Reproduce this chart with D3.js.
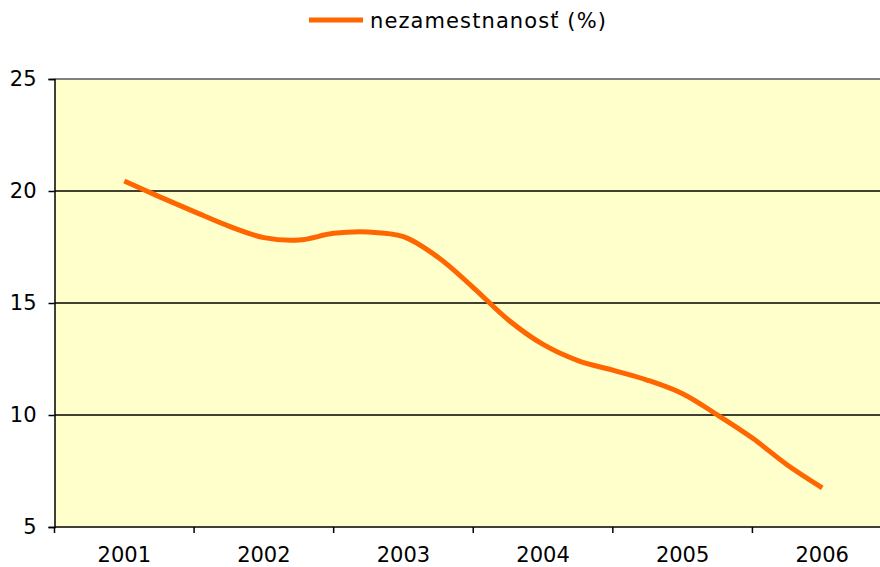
<!DOCTYPE html>
<html><head><meta charset="utf-8">
<script src="https://cdn.jsdelivr.net/npm/d3@7"></script>
<style>body{margin:0;background:#fff}svg{display:block}</style>
</head><body>
<script>
// Category labels (years)
const years = ["2001","2002","2003","2004","2005","2006"];
// Quarterly sample positions (years since 2001) and unemployment values (%)
const periods = [0,0.25,0.5,0.75,1,1.25,1.5,1.75,2,2.25,2.5,2.75,3,3.25,3.5,3.75,4,4.25,4.5,4.75,5];
const unemployment = [20.45,19.75,19.08,18.43,17.92,17.81,18.11,18.17,17.96,17.03,15.69,14.25,13.15,12.43,12.0,11.55,10.95,10.0,8.97,7.77,6.75];
const yTicks = [5,10,15,20,25];
const seriesName = "nezamestnanosť (%)";

(function(){
const W = 880, H = 567;
const pLeft = 54.5, pTop = 79, pBottom = 527, pRight = 892;
const font = "'DejaVu Sans', Verdana, sans-serif";

const svg = d3.select("body").append("svg").attr("width", W).attr("height", H);

const x = d3.scaleLinear().domain([-0.5, years.length - 0.5]).range([pLeft, pRight]);
const y = d3.scaleLinear().domain([5, 25]).range([pBottom, pTop]);

// plot background
svg.append("rect").attr("x", pLeft).attr("y", pTop).attr("width", pRight - pLeft).attr("height", pBottom - pTop).attr("fill", "#FFFFCC");

// gridlines
svg.append("g").selectAll("line").data(yTicks.filter(d => d > 5 && d < 25)).join("line")
  .attr("x1", pLeft).attr("x2", pRight).attr("y1", d => y(d)).attr("y2", d => y(d))
  .attr("stroke", "#000").attr("stroke-width", 1.6);
// top border
svg.append("line").attr("x1", pLeft).attr("x2", pRight).attr("y1", pTop).attr("y2", pTop)
  .attr("stroke", "#808080").attr("stroke-width", 2);

// y axis
const yAxis = d3.axisLeft(y).tickValues(yTicks).tickSize(6).tickPadding(12).tickFormat(d3.format("d"));
const gy = svg.append("g").attr("transform", `translate(${pLeft},0)`).call(yAxis);
gy.select(".domain").attr("stroke", "#000").attr("stroke-width", 1.5);
gy.selectAll(".tick line").attr("stroke", "#000").attr("stroke-width", 1.5);
gy.selectAll("text").attr("font-family", font).attr("font-size", 21).attr("fill", "#000");

// x axis: ticks between categories, labels at centers
const gx = svg.append("g").attr("transform", `translate(0,${pBottom})`);
gx.append("line").attr("x1", pLeft).attr("x2", pRight).attr("stroke", "#000").attr("stroke-width", 1.5);
const boundaries = d3.range(years.length + 1).map(i => i - 0.5);
gx.selectAll(".bt").data(boundaries).join("line").attr("class", "bt")
  .attr("x1", d => x(d)).attr("x2", d => x(d)).attr("y1", 0).attr("y2", 6)
  .attr("stroke", "#000").attr("stroke-width", 1.5);
gx.selectAll(".lbl").data(years).join("text").attr("class", "lbl")
  .attr("x", (d, i) => x(i)).attr("y", 35).attr("text-anchor", "middle")
  .attr("font-family", font).attr("font-size", 21).attr("fill", "#000").text(d => d);

// line
const pts = periods.map((p, i) => [p, unemployment[i]]);
const line = d3.line().x(d => x(d[0])).y(d => y(d[1])).curve(d3.curveCatmullRom.alpha(0.5));
svg.append("path").datum(pts).attr("d", line).attr("fill", "none")
  .attr("stroke", "#FF6600").attr("stroke-width", 5).attr("stroke-linejoin", "round");

// legend
const lg = svg.append("g");
lg.append("line").attr("x1", 309).attr("x2", 363).attr("y1", 20).attr("y2", 20)
  .attr("stroke", "#FF6600").attr("stroke-width", 5);
lg.append("text").attr("x", 370).attr("y", 28).attr("font-family", font).attr("font-size", 21)
  .attr("letter-spacing", 1.1).attr("fill", "#000").text(seriesName);
})();
</script>
</body></html>
